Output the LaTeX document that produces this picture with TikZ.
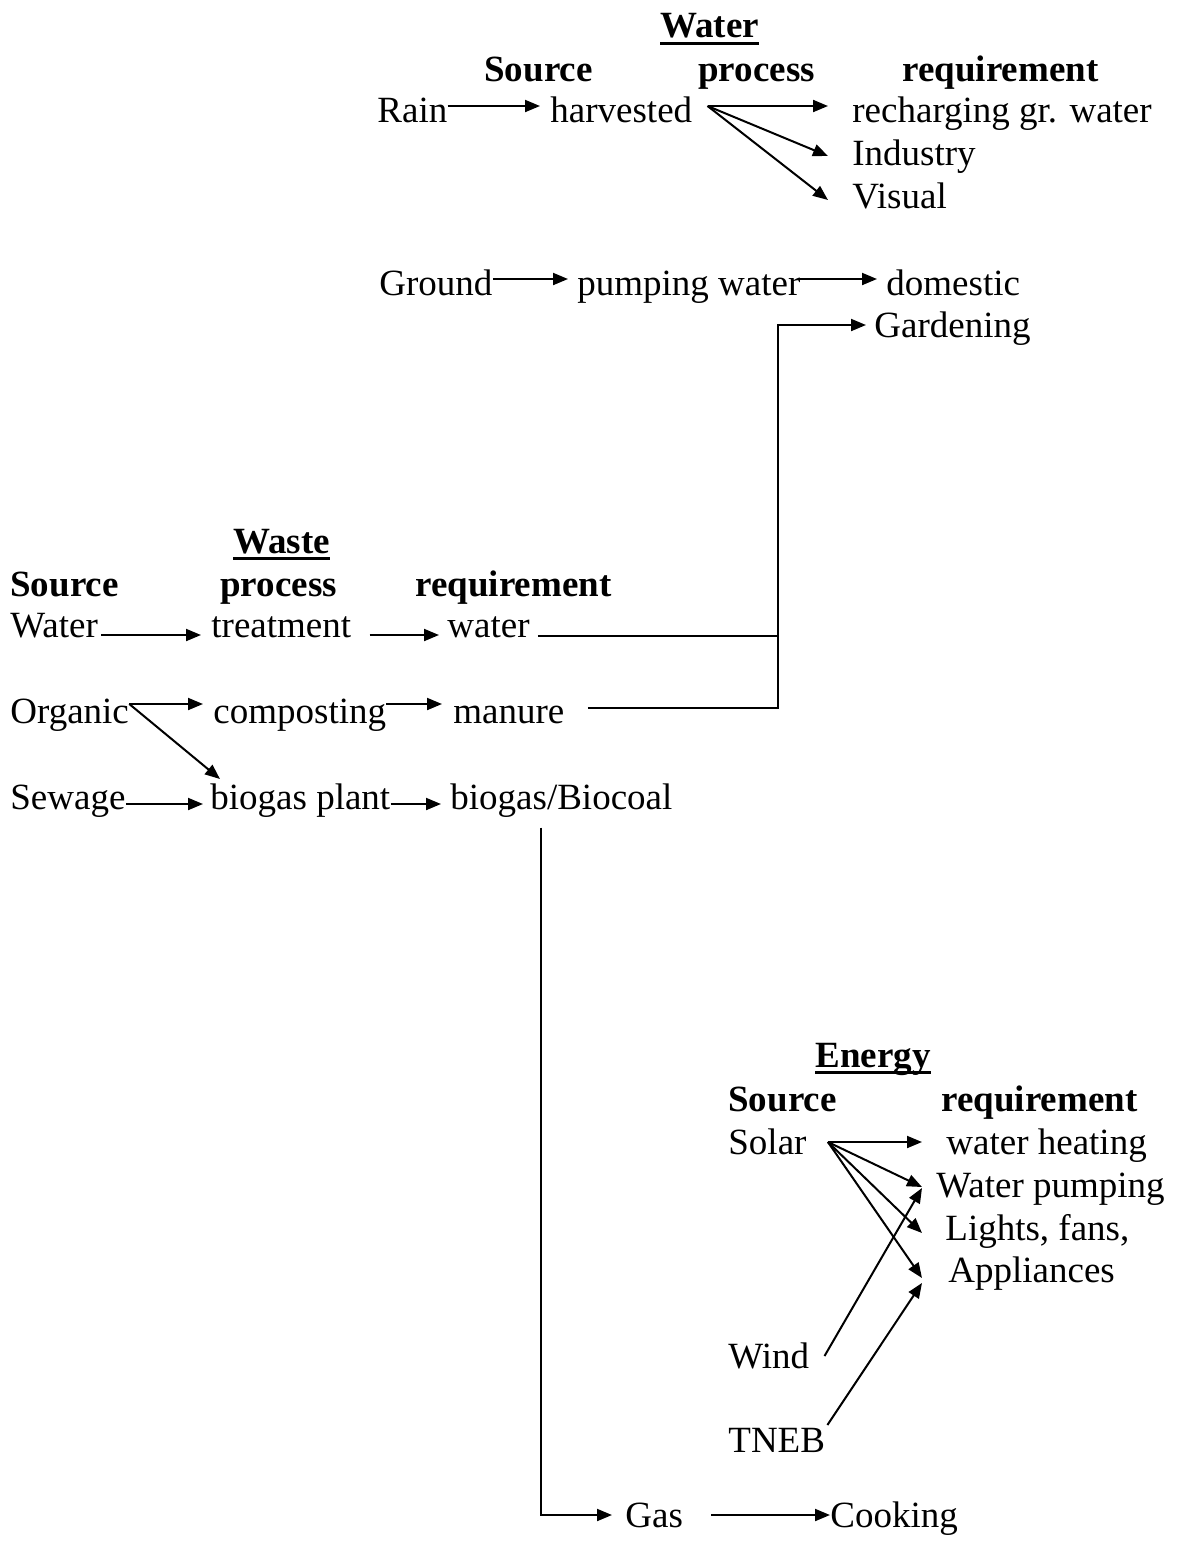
\documentclass[tikz,border=0pt]{standalone}
\usepackage{fontspec}
\setmainfont{Liberation Serif}
\usetikzlibrary{arrows.meta}
\tikzset{
    lbl/.style={anchor=west,inner sep=0pt,text height=12.2pt,text depth=0pt,font=\fontsize{18.5}{22}\selectfont},
    hdr/.style={lbl,font=\fontsize{18.5}{22}\selectfont\bfseries},
    flow/.style={line width=1pt,-{Triangle[length=7.5pt,width=6pt]}},
    link/.style={line width=1pt},
    uline/.style={line width=1.4pt},
}
\begin{document}
\begin{tikzpicture}[x=0.5pt,y=-0.5pt]
\useasboundingbox (0,0) rectangle (1183,1544);
% water
\node[hdr] (wtitle) at (660,25) {Water};
\draw[uline] ([yshift=-3pt]wtitle.base west) -- ([yshift=-3pt]wtitle.base east);
\node[hdr] (wsrch) at (484,69) {Source};
\node[hdr] (wproch) at (698,69) {process};
\node[hdr] (wreqh) at (902,69) {requirement};
\node[lbl] (rain) at (377,110) {Rain};
\node[lbl] (harv) at (550,110) {harvested};
\node[lbl] (rech) at (852,110) {recharging gr. water};
\node[lbl] (ind) at (852,153) {Industry};
\node[lbl] (vis) at (852,196) {Visual};
\node[lbl] (ground) at (379,283) {Ground};
\node[lbl] (pump) at (577,283) {pumping water};
\node[lbl] (dom) at (886,283) {domestic};
\node[lbl] (gard) at (874,325) {Gardening};
\draw[flow] ([yshift=2pt]rain.east) -- ([shift={(-5pt,2pt)}]harv.west);
\coordinate (hv) at ([shift={(7.5pt,2pt)}]harv.east);
\draw[flow] (hv) -- ([shift={(-12pt,2pt)}]rech.west);
\draw[flow] (hv) -- ([shift={(-12pt,-1.5pt)}]ind.west);
\draw[flow] (hv) -- ([shift={(-12pt,-2pt)}]vis.west);
\draw[flow] ([yshift=2pt]ground.east) -- ([shift={(-4.5pt,2pt)}]pump.west);
\draw[flow] ([shift={(-1pt,2pt)}]pump.east) -- ([shift={(-4.5pt,2pt)}]dom.west);
% waste
\node[hdr] (stitle) at (233,541) {Waste};
\draw[uline] ([yshift=-2.5pt]stitle.base west) -- ([yshift=-2.5pt]stitle.base east);
\node[hdr] (ssrch) at (10,584) {Source};
\node[hdr] (sproch) at (220,584) {process};
\node[hdr] (sreqh) at (415,584) {requirement};
\node[lbl] (wsrc) at (10,625) {Water};
\node[lbl] (treat) at (211,625) {treatment};
\node[lbl] (wreq) at (447,625) {water};
\node[lbl] (org) at (10,711) {Organic};
\node[lbl] (comp) at (213,711) {composting};
\node[lbl] (man) at (453,711) {manure};
\node[lbl] (sew) at (10,797) {Sewage};
\node[lbl] (bgp) at (210,797) {biogas plant};
\node[lbl] (bgc) at (450,797) {biogas/Biocoal};
\draw[flow] ([shift={(1.5pt,-5pt)}]wsrc.east) -- ([shift={(-5pt,-5pt)}]treat.west);
\draw[flow] ([shift={(9pt,-5pt)}]treat.east) -- ([shift={(-4pt,-5pt)}]wreq.west);
\draw[flow] ([yshift=3.5pt]org.east) -- ([shift={(-5pt,3.5pt)}]comp.west);
\draw[flow] ([yshift=3.5pt]org.east) -- ([shift={(5pt,9pt)}]bgp.west);
\draw[flow] ([yshift=3.5pt]comp.east) -- ([shift={(-5.5pt,3.5pt)}]man.west);
\draw[flow] ([yshift=-3.5pt]sew.east) -- ([shift={(-3.5pt,-3.5pt)}]bgp.west);
\draw[flow] ([yshift=-3.5pt]bgp.east) -- ([shift={(-4.5pt,-3.5pt)}]bgc.west);
% to gardening
\coordinate (bus) at (778,325);
\draw[flow] ([shift={(11.5pt,1.5pt)}]man.east) -| (bus) -- ([xshift=-4pt]gard.west);
\path ([yshift=-5.5pt]wreq.east) coordinate (wr);
\draw[link] ([xshift=4pt]wr) -- (wr -| bus);
% energy
\node[hdr] (etitle) at (815,1055) {Energy};
\draw[uline] ([yshift=-2.5pt]etitle.base west) -- ([yshift=-2.5pt]etitle.base east);
\node[hdr] (esrch) at (728,1099) {Source};
\node[hdr] (ereqh) at (941,1099) {requirement};
\node[lbl] (sol) at (728,1142) {Solar};
\node[lbl] (wh) at (946,1142) {water heating};
\node[lbl] (wp) at (936,1185) {Water pumping};
\node[lbl] (lf) at (945,1228) {Lights, fans,};
\node[lbl] (app) at (948,1270) {Appliances};
\node[lbl] (wind) at (728,1356) {Wind};
\node[lbl] (tneb) at (728,1440) {TNEB};
\node[lbl] (gas) at (625,1515) {Gas};
\node[lbl] (cook) at (830,1515) {Cooking};
\coordinate (so) at ([xshift=10.5pt]sol.east);
\draw[flow] (so) -- ([xshift=-12pt]wh.west);
\draw[flow] (so) -- ([shift={(-7pt,-1pt)}]wp.west);
\draw[flow] (so) -- ([shift={(-11.5pt,-2.5pt)}]lf.west);
\draw[flow] (so) -- ([shift={(-13pt,-4pt)}]app.west);
\draw[flow] ([xshift=7.5pt]wind.east) -- ([shift={(-7pt,-1.5pt)}]wp.west);
\draw[flow] ([shift={(1pt,7.5pt)}]tneb.east) -- ([shift={(-13pt,-6.5pt)}]app.west);
% biogas to gas
\draw[flow] ([shift={(-10pt,-9pt)}]bgc.south) |- ([xshift=-6.5pt]gas.west);
\draw[flow] ([xshift=14pt]gas.east) -- (cook.west);
\end{tikzpicture}
\end{document}
